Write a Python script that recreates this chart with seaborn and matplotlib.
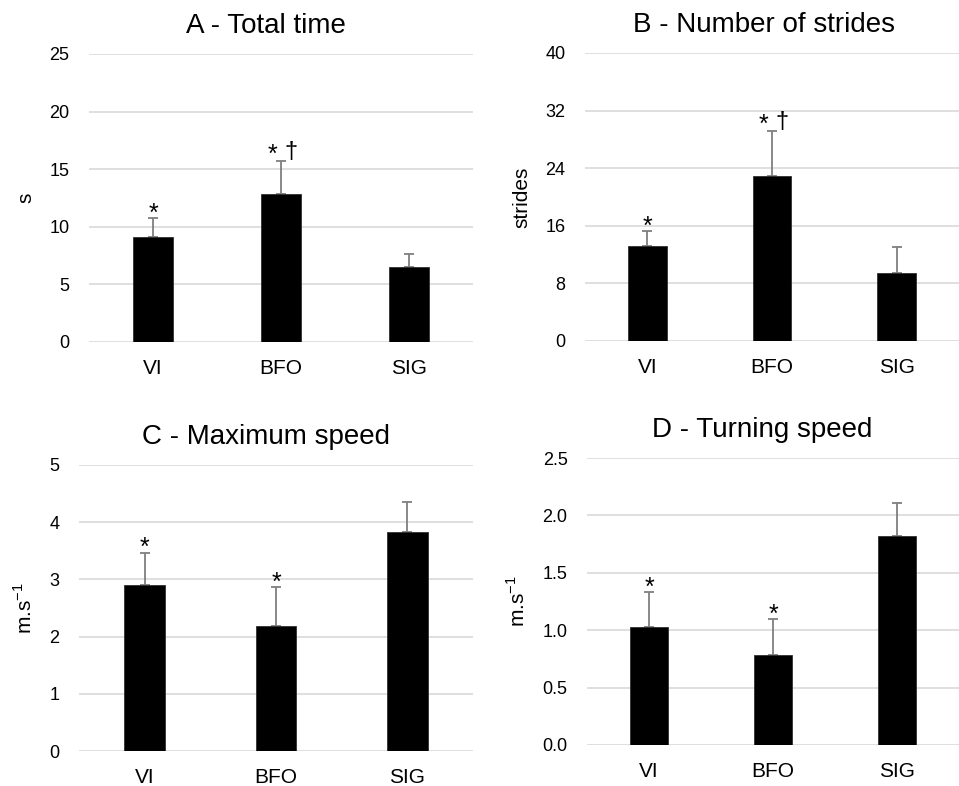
import numpy as np
import pandas as pd
import matplotlib.pyplot as plt
import seaborn as sns

# groups
groups = ['VI', 'BFO', 'SIG']

# A - total time (s)
time_mean = [9.1, 12.85, 6.5]
time_sd = [1.65, 2.9, 1.13]
time_marks = ['*', '*†', '']

# B - number of strides
strides_mean = [13.2, 22.9, 9.5]
strides_sd = [2.1, 6.3, 3.5]
strides_marks = ['*', '*†', '']

# C - maximum speed (m/s)
maxspeed_mean = [2.91, 2.19, 3.82]
maxspeed_sd = [0.56, 0.67, 0.53]
maxspeed_marks = ['*', '*', '']

# D - turning speed (m/s)
turnspeed_mean = [1.03, 0.78, 1.82]
turnspeed_sd = [0.30, 0.32, 0.29]
turnspeed_marks = ['*', '*', '']

sns.set_style('white')
plt.rcParams['font.family'] = ['Liberation Sans', 'DejaVu Sans']
plt.rcParams['text.color'] = 'black'
plt.rcParams['axes.labelcolor'] = 'black'
plt.rcParams['xtick.color'] = 'black'
plt.rcParams['ytick.color'] = 'black'

fig = plt.figure(figsize=(9.59, 7.86), dpi=100)


def panel(rect, title, title_x, mean, sd, marks, ylabel, ymax, step, fmt):
    ax = fig.add_axes(rect)
    df = pd.DataFrame({'group': groups, 'value': mean})
    sns.barplot(data=df, x='group', y='value', color='black', width=0.31,
                edgecolor='#303030', linewidth=0.6, ax=ax, zorder=3)
    x = np.arange(len(groups))
    # only the upper half of the SD is shown
    ax.errorbar(x, mean, yerr=[np.zeros(len(sd)), sd], fmt='none',
                ecolor='#7f7f7f', elinewidth=1.3, capsize=3.5, capthick=1.3, zorder=2)
    for xi, m, s, t in zip(x, mean, sd, marks):
        if t == '*':
            ax.annotate('*', (xi, m + s), xytext=(0, -2), textcoords='offset points',
                        ha='center', va='baseline', fontsize=18)
        elif t == '*†':
            ax.annotate('*', (xi, m + s), xytext=(-6, -1), textcoords='offset points',
                        ha='center', va='baseline', fontsize=18)
            ax.annotate('†', (xi, m + s), xytext=(7, 2), textcoords='offset points',
                        ha='center', va='baseline', fontsize=17)
    ax.set_xlim(-0.5, 2.5)
    ax.set_ylim(0, ymax)
    ticks = np.arange(0, ymax + step / 2, step)
    ax.set_yticks(ticks)
    ax.set_yticklabels([fmt % v for v in ticks])
    ax.grid(axis='y', color='#d9d9d9', linewidth=1.2, zorder=0)
    ax.set_axisbelow(True)
    sns.despine(ax=ax, left=True, bottom=True)
    ax.tick_params(axis='x', length=0, pad=12, labelsize=15)
    ax.tick_params(axis='y', length=0, pad=14, labelsize=13)
    ax.set_xlabel('')
    ax.set_ylabel(ylabel, fontsize=15, labelpad=10)
    ax.set_title(title, fontsize=20, pad=15, x=title_x)
    return ax


panel([0.0928, 0.5649, 0.4004, 0.3664], 'A - Total time', 0.462,
      time_mean, time_sd, time_marks, 's', 25, 5, '%d')
panel([0.61, 0.5662, 0.39, 0.3664], 'B - Number of strides', 0.478,
      strides_mean, strides_sd, strides_marks, 'strides', 40, 8, '%d')
panel([0.0824, 0.0445, 0.4108, 0.3639], 'C - Maximum speed', 0.475,
      maxspeed_mean, maxspeed_sd, maxspeed_marks, 'm.s$^{\\mathregular{-1}}$', 5, 1, '%d')
panel([0.6121, 0.0522, 0.3879, 0.3651], 'D - Turning speed', 0.47,
      turnspeed_mean, turnspeed_sd, turnspeed_marks, 'm.s$^{\\mathregular{-1}}$', 2.5, 0.5, '%.1f')

fig.savefig('out.png', dpi=100)
